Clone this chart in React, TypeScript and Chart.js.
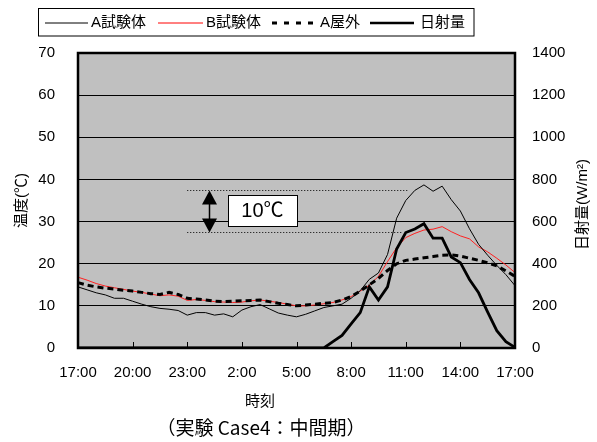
import React, { useEffect, useRef } from "react";
import { Chart, registerables } from "chart.js";

Chart.register(...registerables);

// ---- data ----
const timeLabels: string[] = [
  "17:00", "17:30", "18:00", "18:30", "19:00", "19:30", "20:00", "20:30", "21:00", "21:30",
  "22:00", "22:30", "23:00", "23:30", "0:00", "0:30", "1:00", "1:30", "2:00", "2:30",
  "3:00", "3:30", "4:00", "4:30", "5:00", "5:30", "6:00", "6:30", "7:00", "7:30",
  "8:00", "8:30", "9:00", "9:30", "10:00", "10:30", "11:00", "11:30", "12:00", "12:30",
  "13:00", "13:30", "14:00", "14:30", "15:00", "15:30", "16:00", "16:30", "17:00",
];

const aShiken: number[] = [
  14.5, 13.8, 13.1, 12.6, 11.8, 11.8, 11.1, 10.4, 9.8, 9.4,
  9.2, 8.9, 7.8, 8.4, 8.4, 7.8, 8.1, 7.4, 9.0, 9.8,
  10.3, 9.3, 8.3, 7.8, 7.4, 8.0, 8.8, 9.6, 10.0, 10.4,
  11.8, 13.6, 16.3, 17.8, 22.2, 30.8, 35.0, 37.4, 38.7, 37.2,
  38.4, 35.2, 32.5, 28.3, 24.6, 22.0, 19.6, 17.4, 14.8,
];

const bShiken: number[] = [
  16.8, 16.1, 15.3, 14.7, 14.3, 13.9, 13.5, 13.2, 12.8, 12.4,
  12.6, 12.3, 11.3, 11.5, 11.3, 11.0, 10.9, 10.8, 10.9, 11.2,
  11.4, 11.1, 10.8, 10.4, 10.0, 10.0, 10.2, 10.5, 10.8, 11.4,
  12.2, 13.5, 14.9, 17.0, 20.5, 23.8, 26.2, 27.2, 28.0, 28.2,
  28.8, 27.6, 26.6, 25.9, 24.0, 22.8, 21.3, 19.7, 17.9,
];

const aOkugai: number[] = [
  15.5, 14.9, 14.5, 14.2, 14.0, 13.7, 13.5, 13.2, 12.9, 12.7,
  13.2, 12.7, 11.8, 11.6, 11.4, 11.1, 11.0, 11.1, 11.2, 11.3,
  11.4, 11.0, 10.6, 10.3, 10.0, 10.2, 10.4, 10.6, 10.8, 11.4,
  12.2, 13.5, 15.0, 16.5, 18.4, 20.0, 20.8, 21.1, 21.4, 21.7,
  22.0, 22.1, 21.8, 21.3, 20.8, 20.2, 19.5, 18.3, 17.0,
];

const nisshaRyo: number[] = [
  0, 0, 0, 0, 0, 0, 0, 0, 0, 0,
  0, 0, 0, 0, 0, 0, 0, 0, 0, 0,
  0, 0, 0, 0, 0, 0, 0, 0, 30, 60,
  115, 168, 290, 228, 290, 470, 548, 565, 590, 521,
  521, 432, 405, 325, 262, 170, 82, 30, 3,
];

const tempTicks = { min: 0, max: 70, step: 10 };
const solarTicks = { min: 0, max: 1400, step: 200 };

// annotation (10℃ band)
const bandUpper = 37.5;
const bandLower = 27.5;
const bandStartIdx = 12;
const bandUpperEndIdx = 36.3;
const bandLowerEndIdx = 35.7;
const arrowIdx = 14.4;
const boxCenterIdx = 20.26;
const boxCenterTemp = 32.6;
const boxLabel = "10℃";

const FONT = '"Liberation Sans", "Noto Sans CJK JP", Arial, sans-serif';
const CJK = '"Noto Sans CJK JP", "Liberation Sans", sans-serif';

const decor = {
  id: "decor",
  beforeDraw(chart: any) {
    const { ctx, chartArea: a } = chart;
    ctx.save();
    ctx.fillStyle = "#c0c0c0";
    ctx.fillRect(a.left, a.top, a.right - a.left, a.bottom - a.top);
    ctx.restore();
  },
  afterDatasetsDraw(chart: any) {
    const { ctx, chartArea: a, scales } = chart;
    const xs = scales.x;
    const ys = scales.y;
    ctx.save();
    // dotted band lines
    ctx.strokeStyle = "#000";
    ctx.lineWidth = 1;
    ctx.setLineDash([1, 2]);
    const x0 = xs.getPixelForValue(bandStartIdx);
    const yu = Math.round(ys.getPixelForValue(bandUpper)) + 0.5;
    const yl = Math.round(ys.getPixelForValue(bandLower)) + 0.5;
    ctx.beginPath();
    ctx.moveTo(x0, yu);
    ctx.lineTo(xs.getPixelForValue(bandUpperEndIdx), yu);
    ctx.moveTo(x0, yl);
    ctx.lineTo(xs.getPixelForValue(bandLowerEndIdx), yl);
    ctx.stroke();
    ctx.setLineDash([]);
    // double arrow
    const ax = Math.round(xs.getPixelForValue(arrowIdx)) + 0.5;
    ctx.fillStyle = "#000";
    ctx.lineWidth = 1.5;
    ctx.beginPath();
    ctx.moveTo(ax, yu + 12);
    ctx.lineTo(ax, yl - 12);
    ctx.stroke();
    ctx.beginPath();
    ctx.moveTo(ax, yu);
    ctx.lineTo(ax - 7.5, yu + 14);
    ctx.lineTo(ax + 7.5, yu + 14);
    ctx.closePath();
    ctx.fill();
    ctx.beginPath();
    ctx.moveTo(ax, yl);
    ctx.lineTo(ax - 7.5, yl - 14);
    ctx.lineTo(ax + 7.5, yl - 14);
    ctx.closePath();
    ctx.fill();
    // label box
    const bx = xs.getPixelForValue(boxCenterIdx);
    const by = ys.getPixelForValue(boxCenterTemp);
    const bw = 69, bh = 31;
    ctx.fillStyle = "#fff";
    ctx.fillRect(Math.round(bx - bw / 2) + 0.5, Math.round(by - bh / 2) + 0.5, bw, bh);
    ctx.lineWidth = 1;
    ctx.strokeStyle = "#000";
    ctx.strokeRect(Math.round(bx - bw / 2) + 0.5, Math.round(by - bh / 2) + 0.5, bw, bh);
    ctx.fillStyle = "#000";
    ctx.font = "20px " + FONT;
    ctx.textAlign = "center";
    ctx.textBaseline = "middle";
    ctx.fillText(boxLabel, bx, by + 1);
    // inner x ticks
    ctx.lineWidth = 1;
    ctx.beginPath();
    for (let i = 0; i < timeLabels.length; i += 6) {
      const px = Math.round(xs.getPixelForValue(i)) + 0.5;
      ctx.moveTo(px, a.bottom);
      ctx.lineTo(px, a.bottom - 6);
    }
    ctx.stroke();
    // plot border
    ctx.lineWidth = 2.5;
    ctx.strokeRect(a.left, a.top, a.right - a.left, a.bottom - a.top);
    ctx.restore();
  },
  afterDraw(chart: any) {
    const { ctx, chartArea: a } = chart;
    ctx.save();
    // legend box
    ctx.fillStyle = "#fff";
    ctx.fillRect(38.5, 8.5, 435.5, 27.5);
    ctx.strokeStyle = "#000";
    ctx.lineWidth = 1;
    ctx.strokeRect(38.5, 8.5, 435.5, 27.5);
    const ly = 23;
    const items = [
      { x0: 45, x1: 88, tx: 91, color: "#000", w: 1, dash: [] as number[], label: "A試験体" },
      { x0: 158, x1: 203, tx: 206, color: "#ff0000", w: 1, dash: [] as number[], label: "B試験体" },
      { x0: 272, x1: 320, tx: 320, color: "#000", w: 3, dash: [5, 7], label: "A屋外" },
      { x0: 370, x1: 414, tx: 420, color: "#000", w: 2.5, dash: [] as number[], label: "日射量" },
    ];
    ctx.font = "15px " + FONT;
    ctx.textAlign = "left";
    ctx.textBaseline = "middle";
    for (const it of items) {
      ctx.strokeStyle = it.color;
      ctx.lineWidth = it.w;
      ctx.setLineDash(it.dash);
      ctx.beginPath();
      ctx.moveTo(it.x0, ly);
      ctx.lineTo(it.x1, ly);
      ctx.stroke();
      ctx.setLineDash([]);
      ctx.fillStyle = "#000";
      ctx.fillText(it.label, it.tx, ly);
    }
    // axis titles
    const cy = (a.top + a.bottom) / 2;
    ctx.font = "15px " + FONT;
    ctx.textAlign = "center";
    ctx.save();
    ctx.translate(22, cy);
    ctx.rotate(-Math.PI / 2);
    ctx.fillText("温度(℃)", 0, 0);
    ctx.restore();
    ctx.save();
    ctx.translate(583, cy + 4);
    ctx.rotate(-Math.PI / 2);
    ctx.fillText("日射量(W/m²)", 0, 0);
    ctx.restore();
    ctx.fillText("時刻", 260, 402);
    ctx.font = "19px " + CJK;
    ctx.fillText("（実験 Case4：中間期）", 261, 428);
    ctx.restore();
  },
};

export default function App() {
  const ref = useRef<HTMLCanvasElement>(null);
  useEffect(() => {
    const chart = new Chart(ref.current as HTMLCanvasElement, {
      type: "line",
      data: {
        labels: timeLabels,
        datasets: [
          {
            label: "日射量",
            data: nisshaRyo,
            yAxisID: "y1",
            borderColor: "#000",
            borderWidth: 2.8,
            pointRadius: 0,
            tension: 0,
            fill: false,
          },
          {
            label: "A屋外",
            data: aOkugai,
            yAxisID: "y",
            borderColor: "#000",
            borderWidth: 3,
            borderDash: [6, 4],
            pointRadius: 0,
            tension: 0,
            fill: false,
          },
          {
            label: "A試験体",
            data: aShiken,
            yAxisID: "y",
            borderColor: "#000",
            borderWidth: 1,
            pointRadius: 0,
            tension: 0,
            fill: false,
          },
          {
            label: "B試験体",
            data: bShiken,
            yAxisID: "y",
            borderColor: "#ff2020",
            borderWidth: 1,
            pointRadius: 0,
            tension: 0,
            fill: false,
          },
        ],
      },
      options: {
        responsive: false,
        animation: false,
        layout: { padding: { top: 53, left: 0, right: 0, bottom: 0 } },
        plugins: {
          legend: { display: false },
          tooltip: { enabled: false },
          title: { display: false },
        },
        scales: {
          x: {
            type: "category",
            offset: false,
            grid: { display: false, drawTicks: false },
            border: { display: false },
            ticks: {
              autoSkip: false,
              maxRotation: 0,
              minRotation: 0,
              padding: 16,
              color: "#000",
              font: { family: FONT, size: 15 },
              callback: (_v: any, i: number) => (i % 6 === 0 ? timeLabels[i] : ""),
            },
            afterFit: (s: any) => {
              s.height = 94;
            },
          },
          y: {
            position: "left",
            min: tempTicks.min,
            max: tempTicks.max,
            grid: { color: "#000", lineWidth: 1, drawTicks: false },
            border: { display: false },
            ticks: {
              stepSize: tempTicks.step,
              padding: 23,
              color: "#000",
              font: { family: FONT, size: 15 },
              callback: (v: any) => String(v),
            },
            afterFit: (s: any) => {
              s.width = 78;
            },
          },
          y1: {
            position: "right",
            min: solarTicks.min,
            max: solarTicks.max,
            grid: { display: false, drawTicks: false },
            border: { display: false },
            ticks: {
              stepSize: solarTicks.step,
              padding: 17,
              color: "#000",
              font: { family: FONT, size: 15 },
              callback: (v: any) => String(v),
            },
            afterFit: (s: any) => {
              s.width = 82;
            },
          },
        },
      } as any,
      plugins: [decor],
    });
    return () => chart.destroy();
  }, []);
  return (
    <div style={{ position: "absolute", left: 0, top: 0, width: 597, height: 442, background: "#fff" }}>
      <canvas ref={ref} width={597} height={442} style={{ display: "block" }} />
    </div>
  );
}
